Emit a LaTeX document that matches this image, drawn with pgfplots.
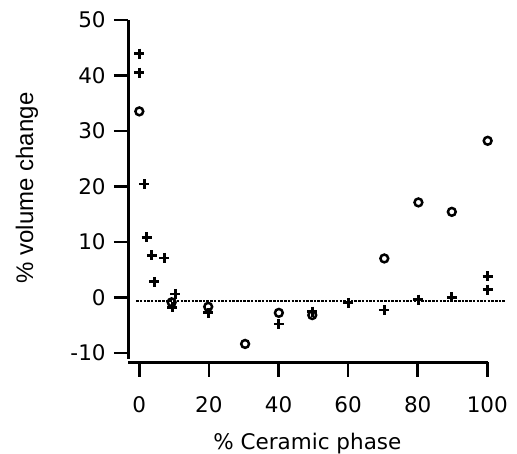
\documentclass[border=0pt]{standalone}
\usepackage{fontspec}
\usepackage{pgfplots}
\pgfplotsset{compat=1.18}
\newfontfamily\dejavu{DejaVu Sans}
\newfontfamily\libsans{Liberation Sans}
\begin{document}
\begin{tikzpicture}
\begin{axis}[
  x=3.48bp, y=5.55bp,
  xmin=-3.16, xmax=100.2, ymin=-11.1, ymax=50,
  axis x line*=bottom, axis y line*=left,
  axis x line shift=3.3bp,
  axis line style={-, line width=2.8bp, black},
  xtick={0,20,40,60,80,100}, ytick={-10,0,10,20,30,40,50},
  xticklabels={0,20,40,60,80,100},
  yticklabels={-10,0,10,20,30,40,50},
  tick align=outside, major tick length=14.5bp,
  minor tick num=0,
  tick style={line width=2.6bp, black},
  ticklabel style={font=\dejavu\fontsize{21.5bp}{25bp}\selectfont, inner sep=0pt},
  xticklabel style={yshift=-20bp},
  yticklabel style={xshift=-8bp},
  xlabel={\% Ceramic phase},
  ylabel={\% volume change},
  every axis x label/.style={at={(axis cs:48.3,-27.33)}, anchor=base, inner sep=0pt, font=\dejavu\fontsize{21.5bp}{25bp}\selectfont},
  every axis y label/.style={at={(axis cs:-32.3,19.7)}, anchor=center, rotate=90, inner sep=0pt, font=\libsans\fontsize{24bp}{28bp}\selectfont},
  clip=false,
]
\addplot[only marks, mark=+, mark size=5bp, mark options={line width=2.8bp, black}] coordinates {
(0,43.9) (0,40.5) (1.4,20.4) (2.1,10.8) (3.6,7.6) (7.2,7.1) (4.3,2.8)
(10.3,0.6) (9.5,-1.8) (19.8,-2.8) (40.1,-4.8) (49.7,-2.6) (60.1,-1.0)
(70.4,-2.3) (80.2,-0.4) (89.8,0.0) (100.1,3.8) (100.1,1.4)
};
\addplot[only marks, mark=o, mark size=3.9bp, mark options={line width=2.5bp, black}] coordinates {
(0,33.5) (9.3,-0.9) (19.8,-1.7) (30.4,-8.4) (40.1,-2.8) (49.7,-3.2)
(70.4,7.0) (80.2,17.1) (89.8,15.4) (100.1,28.2)
};
\addplot[black, line width=1.6bp, dash pattern=on 2.5bp off 1.2bp] coordinates {(-0.9,-0.7) (105.4,-0.7)};
\coordinate (bl) at (axis cs:-40.03,-28.23);
\coordinate (tr) at (axis cs:108.53,53.57);
\end{axis}
\pgfresetboundingbox
\path[use as bounding box] (bl) rectangle (tr);
\end{tikzpicture}
\end{document}
